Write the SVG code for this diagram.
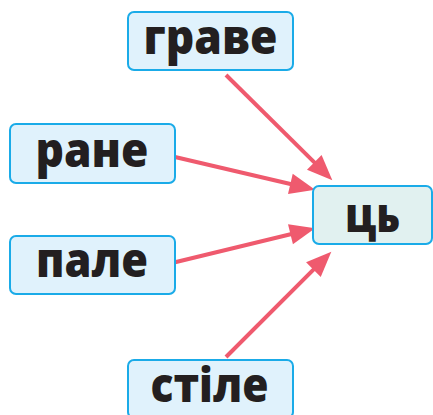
<svg xmlns="http://www.w3.org/2000/svg" width="433" height="415" viewBox="0 0 433 415">
<style>
.box{fill:#e0f2fc;stroke:#1aabe8;stroke-width:2}
.box2{fill:#e1f1f0;stroke:#1aabe8;stroke-width:2}
.t{font-family:"Open Sans","DejaVu Sans",sans-serif;font-weight:800;font-size:48px;fill:#231f20;text-anchor:middle}
.c{stroke:#ef5a6e;stroke-width:4;fill:none;marker-end:url(#ah)}
</style>
<defs>
<marker id="ah" markerUnits="userSpaceOnUse" markerWidth="30" markerHeight="30" refX="0" refY="0" viewBox="-2 -12 26 24" orient="auto">
<path d="M-1,-9 L21,0 L-1,9 Z" fill="#ef5a6e"/>
</marker>
</defs>
<rect width="433" height="415" fill="#ffffff"/>
<g id="connectors">
<line class="c" x1="226" y1="75" x2="315.1" y2="163.2"/>
<line class="c" x1="175" y1="157" x2="291.5" y2="184.2"/>
<line class="c" x1="172" y1="263" x2="291.6" y2="234"/>
<line class="c" x1="226" y1="357" x2="314.2" y2="268.8"/>
</g>
<g id="node-grave">
<rect class="box" x="128" y="12" width="165" height="58" rx="6"/>
<text class="t" x="210.5" y="54" textLength="134" lengthAdjust="spacingAndGlyphs">граве</text>
</g>
<g id="node-rane">
<rect class="box" x="10" y="124" width="165" height="59" rx="6"/>
<text class="t" x="92" y="167" textLength="113" lengthAdjust="spacingAndGlyphs">ране</text>
</g>
<g id="node-pale">
<rect class="box" x="10" y="236" width="165" height="58" rx="6"/>
<text class="t" x="92" y="277" textLength="112" lengthAdjust="spacingAndGlyphs">пале</text>
</g>
<g id="node-stile">
<rect class="box" x="128" y="360" width="165" height="58" rx="6"/>
<text class="t" x="209.5" y="402" textLength="118" lengthAdjust="spacingAndGlyphs">стіле</text>
</g>
<g id="node-ts">
<rect class="box2" x="313" y="186" width="119" height="58" rx="6"/>
<text class="t" x="372.5" y="232" textLength="55" lengthAdjust="spacingAndGlyphs">ць</text>
</g>
</svg>
